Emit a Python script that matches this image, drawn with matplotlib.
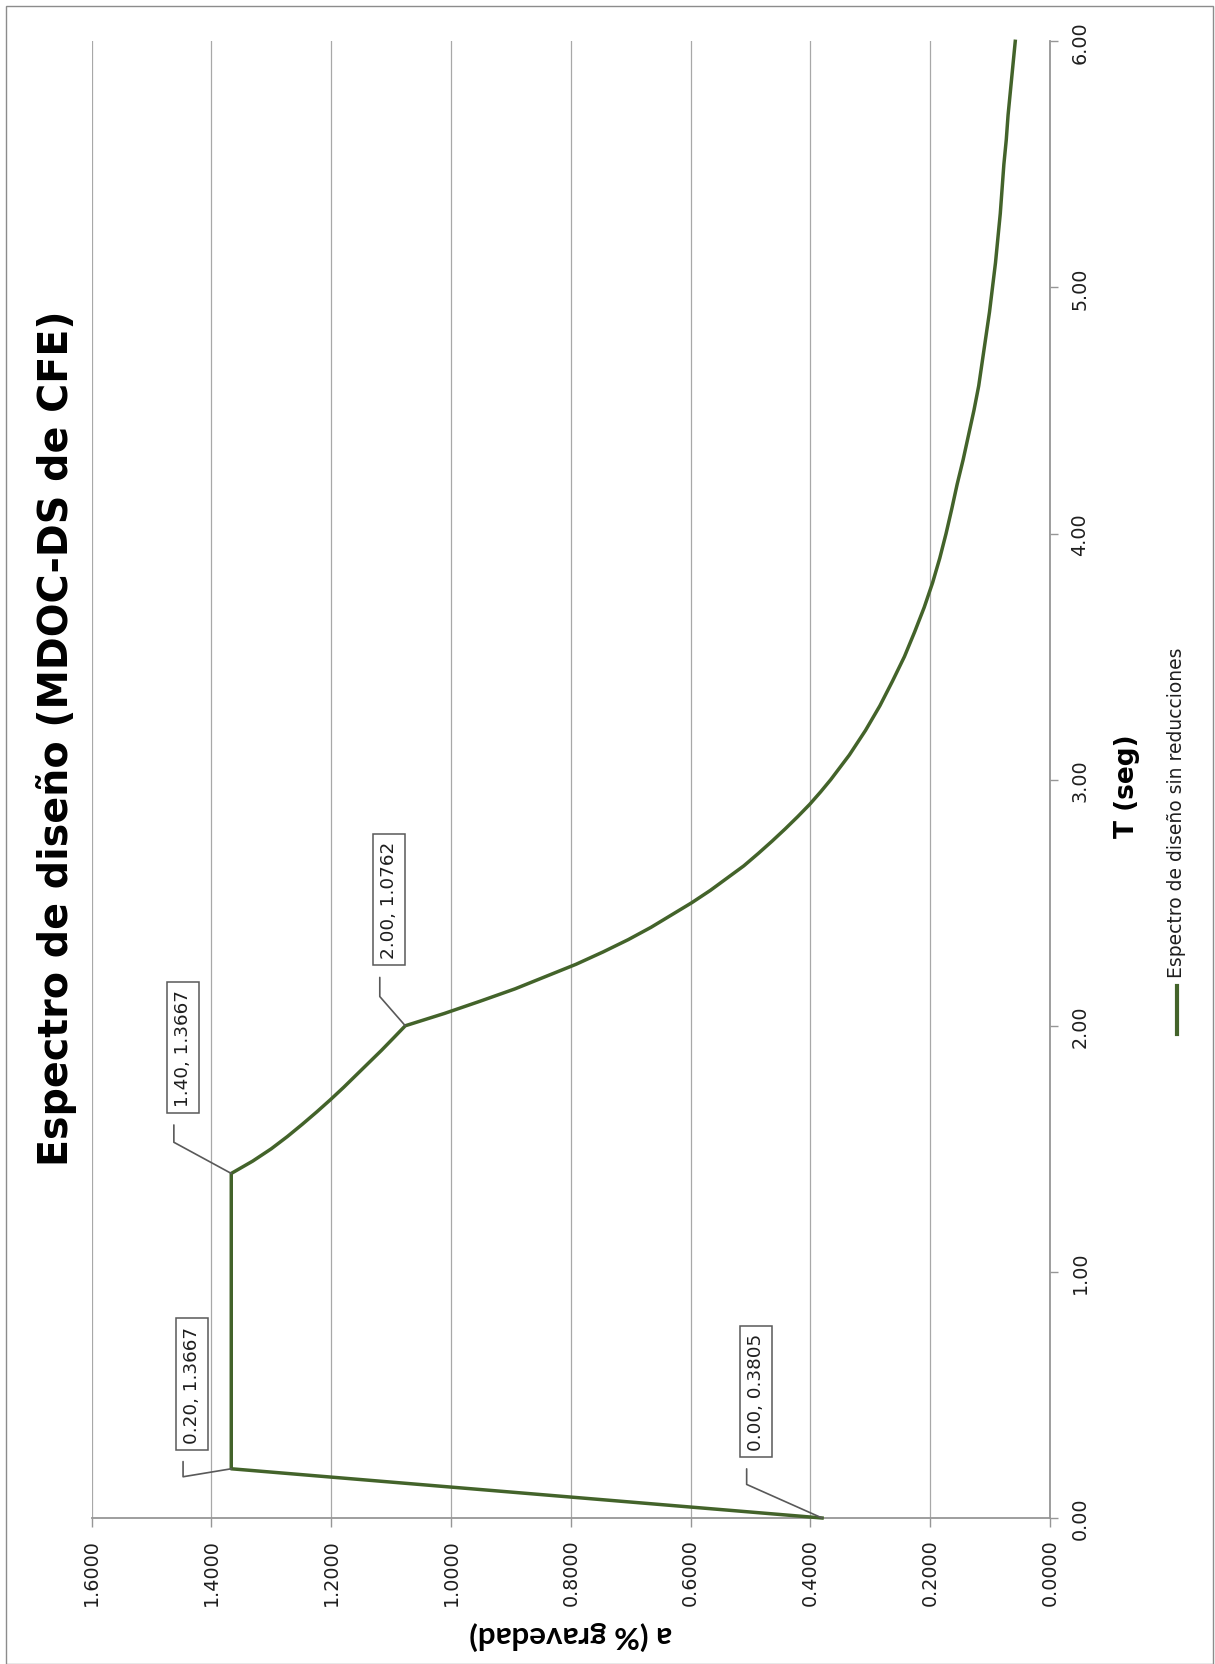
import matplotlib
matplotlib.use('Agg')
import matplotlib.pyplot as plt
from matplotlib.lines import Line2D
from matplotlib.patches import Rectangle

# ---------------- data ----------------
T_seg = [0.0, 0.2, 0.4, 0.6, 0.8, 1.0, 1.2, 1.4,
         1.45, 1.5, 1.55, 1.6, 1.65, 1.7, 1.75, 1.8, 1.85, 1.9, 1.95, 2.0,
         2.05, 2.1, 2.15, 2.2, 2.25, 2.3, 2.35, 2.4, 2.45, 2.5, 2.55, 2.6,
         2.65, 2.7, 2.75, 2.8, 2.85, 2.9, 2.95, 3.0,
         3.1, 3.2, 3.3, 3.4, 3.5, 3.6, 3.7, 3.8, 3.9, 4.0, 4.1, 4.2, 4.3,
         4.4, 4.5, 4.6, 4.7, 4.8, 4.9, 5.0, 5.1, 5.2, 5.3, 5.4, 5.5, 5.6,
         5.7, 5.8, 5.9, 6.0]
a_grav = [0.3805, 1.3667, 1.3667, 1.3667, 1.3667, 1.3667, 1.3667, 1.3667,
          1.331, 1.300, 1.273, 1.248, 1.224, 1.201, 1.179, 1.158, 1.137,
          1.116, 1.096, 1.0762,
          1.011, 0.951, 0.893, 0.842, 0.791, 0.746, 0.704, 0.666, 0.632,
          0.598, 0.567, 0.539, 0.511, 0.487, 0.464, 0.442, 0.421, 0.401,
          0.383, 0.366,
          0.335, 0.308, 0.284, 0.263, 0.243, 0.226, 0.210, 0.196, 0.184,
          0.1735, 0.164, 0.155, 0.145, 0.136, 0.127, 0.119, 0.113, 0.107,
          0.101, 0.096, 0.091, 0.087, 0.083, 0.080, 0.077, 0.073, 0.070,
          0.066, 0.062, 0.058]

label_T = [0.00, 0.20, 1.40, 2.00]
label_a = [0.3805, 1.3667, 1.3667, 1.0762]

a_ticks = [0.0, 0.2, 0.4, 0.6, 0.8, 1.0, 1.2, 1.4, 1.6]
T_ticks = [0.0, 1.0, 2.0, 3.0, 4.0, 5.0, 6.0]

title = 'Espectro de diseño (MDOC-DS de CFE)'
x_title = 'a (% gravedad)'
y_title = 'T (seg)'
series_name = 'Espectro de diseño sin reducciones'

# ---------------- style ----------------
GREEN = '#43632A'
GRID = '#A8A8A8'
AXC = '#969696'
BOXC = '#595959'
TXT = '#1E1E1E'

W, H = 1215, 1665
fig = plt.figure(figsize=(W / 100, H / 100), dpi=100)
fig.patch.set_facecolor('white')

x0, x1 = 91.5, 1050.0     # pixel columns of a=1.6 and a=0
y0, y1 = 42.3, 1519.0     # pixel rows of T=6 and T=0
ax = fig.add_axes([x0 / W, (H - y1) / H, (x1 - x0) / W, (y1 - y0) / H])

ax.plot(a_grav, T_seg, color=GREEN, lw=2.5, solid_joinstyle='round',
        zorder=3, clip_on=False)

ax.set_xlim(1.6, 0)
ax.set_ylim(0, 6)
ax.set_xticks(a_ticks)
ax.set_xticklabels([f'{v:.4f}' for v in a_ticks])
ax.set_yticks(T_ticks)
ax.set_yticklabels([f'{v:.2f}' for v in T_ticks])
ax.yaxis.tick_right()

ax.grid(axis='x', color=GRID, lw=0.9)
ax.grid(axis='y', visible=False)
ax.set_axisbelow(True)
for s in ('top', 'left'):
    ax.spines[s].set_visible(False)
for s in ('bottom', 'right'):
    ax.spines[s].set_color(AXC)
    ax.spines[s].set_linewidth(1.3)

ax.tick_params(axis='x', direction='out', length=6.5, width=1.0, color=AXC,
               labelrotation=90, pad=8, labelsize=13.8, labelcolor=TXT)
ax.tick_params(axis='y', direction='out', length=5.8, width=1.0, color=AXC,
               labelrotation=90, pad=9, labelsize=13.8, labelcolor=TXT,
               right=True, left=False, labelright=True, labelleft=False)
for lab in ax.get_yticklabels():
    lab.set_va('center')

# axis titles
ax.set_xlabel(x_title, fontsize=22.5, fontweight='bold', family='Lato',
              rotation=180)
ax.xaxis.label.set_ha('center')
ax.xaxis.label.set_va('center')
ax.xaxis.set_label_coords(0.5, -(1636 - y1) / (y1 - y0))

ax.yaxis.set_label_position('right')
ax.set_ylabel(y_title, fontsize=19, fontweight='bold', rotation=90)
ax.yaxis.label.set_ha('center')
ax.yaxis.label.set_va('center')
ax.yaxis.set_label_coords((1127 - x0) / (x1 - x0), (y1 - 786) / (y1 - y0))

# data labels with leader lines
label_offsets = [(-66.4, 126.8), (-39.2, 84.8), (-48.4, 126.0), (-16.5, 126.0)]
leader_angles = [-24.0, 9.4, -28.5, -48.9]
for Tv, av, (dx, dy), ang in zip(label_T, label_a, label_offsets, leader_angles):
    ax.annotate(f'{Tv:.2f}, {av:.4f}', xy=(av, Tv), xytext=(dx, dy),
                textcoords='offset pixels', rotation=90, ha='center',
                va='center', fontsize=13.2, color=TXT,
                annotation_clip=False, zorder=5,
                bbox=dict(boxstyle='square,pad=0.38', fc='white', ec=BOXC,
                          lw=1.1),
                arrowprops=dict(arrowstyle='-', color=BOXC, lw=1.2,
                                relpos=(0.0, 0.0), shrinkA=8.3, shrinkB=0,
                                connectionstyle=f'angle,angleA=90,angleB={ang},rad=0'))

# title
fig.text(57 / W, 1 - 738 / H, title, rotation=90, ha='center', va='center',
         fontsize=28.5, fontweight='bold', family='DejaVu Sans')

# legend (rotated)
fig.add_artist(Line2D([1177 / W, 1177 / W], [1 - 987 / H, 1 - 1035 / H],
                      transform=fig.transFigure, color=GREEN, lw=3.0))
fig.text(1177 / W, 1 - 978 / H, series_name, rotation=90, ha='center',
         va='bottom', fontsize=13.5, color=TXT)

# chart border
fig.add_artist(Rectangle((5.5 / W, 0.0), (1212.5 - 5.5) / W, (H - 6.5) / H,
                         transform=fig.transFigure, fill=False,
                         ec='#8C8C8C', lw=1.0))

fig.savefig('out.png', dpi=100, facecolor='white')
